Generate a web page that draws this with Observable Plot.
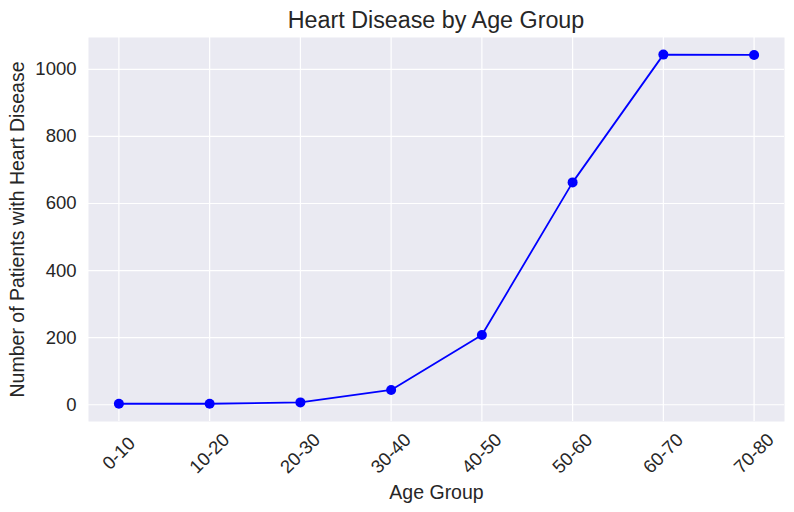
<!DOCTYPE html>
<html>
<head>
<meta charset="utf-8">
<script src="https://cdn.jsdelivr.net/npm/d3@7"></script>
<script src="https://cdn.jsdelivr.net/npm/@observablehq/plot@0.6"></script>
<style>
  body { margin: 0; background: #fff; font-family: "Liberation Sans", Arial, sans-serif; }
  #title { height: 30px; width: 696px; margin-left: 88px; text-align: center; font-size: 23.3px; line-height: 30px; color: #262626; }
  #title span { position: relative; top: 5px; }
</style>
</head>
<body>
<div id="title"><span>Heart Disease by Age Group</span></div>
<div id="chart"></div>
<script>
const ageGroups = ["0-10", "10-20", "20-30", "30-40", "40-50", "50-60", "60-70", "70-80"];
const patients = [3, 3, 7, 44, 208, 663, 1044, 1043];
const yTicks = [0, 200, 400, 600, 800, 1000];

const data = ageGroups.map((g, i) => ({group: g, value: patients[i]}));
const textColor = "#262626";

const chart = Plot.plot({
  width: 794,
  height: 482,
  marginTop: 7,
  marginBottom: 91,
  marginLeft: 88,
  marginRight: 10,
  style: {fontFamily: "'Liberation Sans', Arial, sans-serif", color: textColor, background: "white"},
  x: {type: "point", domain: ageGroups, padding: 0.335, round: false},
  y: {domain: [-50, 1095]},
  marks: [
    Plot.frame({fill: "#eaeaf2", stroke: null}),
    Plot.ruleX(ageGroups, {x: d => d, stroke: "white", strokeWidth: 1.2}),
    Plot.ruleY(yTicks, {y: d => d, stroke: "white", strokeWidth: 1.2}),
    Plot.axisY({ticks: yTicks, tickSize: 0, tickPadding: 12, fontSize: 18.5, label: null, fill: textColor, tickFormat: d3.format("d")}),
    Plot.axisX({ticks: [], tickSize: 0, label: null}),
    Plot.text(ageGroups, {x: d => d, text: d => d, frameAnchor: "bottom", dy: 32, rotate: -45,
      textAnchor: "middle", lineAnchor: "middle", fontSize: 18.5, fill: textColor}),
    Plot.text(["Age Group"], {frameAnchor: "bottom", dy: 71, text: d => d, lineAnchor: "middle", fontSize: 19.5, fill: textColor}),
    Plot.text(["Number of Patients with Heart Disease"], {frameAnchor: "left", dx: -71, rotate: -90, text: d => d,
      lineAnchor: "middle", textAnchor: "middle", fontSize: 19.5, fill: textColor}),
    Plot.line(data, {x: "group", y: "value", stroke: "#0000ff", strokeWidth: 1.8}),
    Plot.dot(data, {x: "group", y: "value", fill: "#0000ff", r: 5})
  ]
});
document.getElementById("chart").appendChild(chart);
</script>
</body>
</html>
